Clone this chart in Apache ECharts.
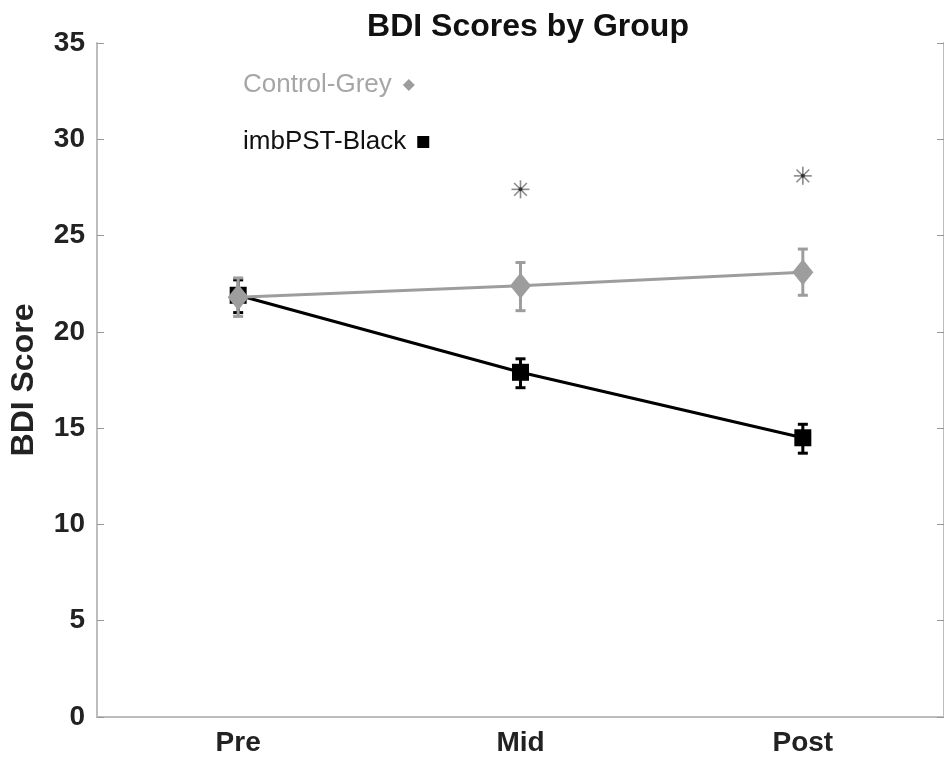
<!DOCTYPE html>
<html>
<head>
<meta charset="utf-8">
<script src="https://cdn.jsdelivr.net/npm/echarts@6/dist/echarts.min.js"></script>
<style>
  html, body { margin: 0; padding: 0; background: #fff; }
  #main { width: 944px; height: 762px; }
</style>
</head>
<body>
<div id="main"></div>
<script>
// data
const phases = ['Pre', 'Mid', 'Post']
const controlMean = [21.8, 22.4, 23.1]
const controlLow = [20.8, 21.1, 21.9]
const controlHigh = [22.8, 23.6, 24.3]
const imbpstMean = [21.9, 17.9, 14.5]
const imbpstLow = [21.0, 17.1, 13.7]
const imbpstHigh = [22.7, 18.6, 15.2]
// significance asterisks: [category index, y]
const starPoints = [[1, 27.4], [2, 28.1]]

const FONT = '"Liberation Sans", Arial, Helvetica, sans-serif'
const GREY = '#9d9d9d'
const BLACK = '#000000'
const AXIS = '#bdbdbd'

function barData(low, high) {
  return low.map((v, i) => [i, v, high[i]])
}

function errorBar(color, width, half) {
  return function (params, api) {
    const x = api.value(0)
    const lo = api.coord([x, api.value(1)])
    const hi = api.coord([x, api.value(2)])
    const style = { stroke: color, lineWidth: width }
    return {
      type: 'group',
      children: [
        { type: 'line', shape: { x1: hi[0], y1: hi[1], x2: lo[0], y2: lo[1] }, style },
        { type: 'line', shape: { x1: hi[0] - half, y1: hi[1], x2: hi[0] + half, y2: hi[1] }, style },
        { type: 'line', shape: { x1: lo[0] - half, y1: lo[1], x2: lo[0] + half, y2: lo[1] }, style }
      ]
    }
  }
}

function asterisk(params, api) {
  const p = api.coord([api.value(0), api.value(1)])
  const r = 9
  const children = []
  for (let k = 0; k < 4; k++) {
    const a = k * Math.PI / 4
    const dx = r * Math.cos(a)
    const dy = r * Math.sin(a)
    children.push({
      type: 'line',
      shape: { x1: p[0] - dx, y1: p[1] - dy, x2: p[0] + dx, y2: p[1] + dy },
      style: { stroke: '#8a8a8a', lineWidth: 1.6 }
    })
  }
  children.push({ type: 'circle', shape: { cx: p[0], cy: p[1], r: 2 }, style: { fill: '#333' } })
  return { type: 'group', children }
}

const tickLabel = { fontFamily: FONT, fontWeight: 'bold', fontSize: 28, color: '#222' }

function legendBox(top, item) {
  return {
    orient: 'vertical',
    left: 238,
    top: top,
    align: 'right',
    itemWidth: 12,
    itemHeight: 12,
    textStyle: { fontFamily: FONT, fontSize: 26, padding: [0, 6, 0, 0] },
    data: [item]
  }
}

const option = {
  backgroundColor: '#fff',
  animation: false,
  title: {
    text: 'BDI Scores by Group',
    left: 523,
    top: 6,
    textAlign: 'center',
    textStyle: { fontFamily: FONT, fontWeight: 'bold', fontSize: 32, color: '#111' }
  },
  legend: [
    legendBox(67, { name: 'Control-Grey', icon: 'diamond', textStyle: { color: '#a6a6a6' } }),
    legendBox(124, { name: 'imbPST-Black', icon: 'rect', textStyle: { color: '#111' } })
  ],
  grid: { left: 97, top: 43, width: 852, bottom: 45 },
  xAxis: [
    {
      type: 'category',
      data: phases,
      boundaryGap: true,
      axisLine: { lineStyle: { color: AXIS, width: 2 } },
      axisTick: { inside: true, alignWithLabel: true, length: 8, lineStyle: { color: '#999' } },
      axisLabel: Object.assign({ margin: 12 }, tickLabel)
    },
    {
      type: 'category',
      position: 'top',
      data: phases,
      boundaryGap: true,
      axisLine: { lineStyle: { color: AXIS, width: 2 } },
      axisTick: { inside: true, alignWithLabel: true, length: 8, lineStyle: { color: '#999' } },
      axisLabel: { show: false }
    }
  ],
  yAxis: [
    {
      type: 'value',
      min: 0,
      max: 35,
      interval: 5,
      name: 'BDI Score',
      nameLocation: 'middle',
      nameRotate: 90,
      nameGap: 57,
      nameTextStyle: { fontFamily: FONT, fontWeight: 'bold', fontSize: 32, color: '#222' },
      axisLine: { show: true, lineStyle: { color: AXIS, width: 2 } },
      axisTick: { show: true, inside: true, length: 7, lineStyle: { color: '#999' } },
      splitLine: { show: false },
      axisLabel: Object.assign({ margin: 12 }, tickLabel)
    },
    {
      type: 'value',
      position: 'right',
      min: 0,
      max: 35,
      interval: 5,
      axisLine: { show: true, lineStyle: { color: AXIS, width: 2 } },
      axisTick: { show: true, inside: true, length: 7, lineStyle: { color: '#999' } },
      splitLine: { show: false },
      axisLabel: { show: false }
    }
  ],
  series: [
    {
      name: 'imbPST-Black',
      type: 'line',
      data: imbpstMean,
      symbol: 'rect',
      symbolSize: 17,
      itemStyle: { color: BLACK },
      lineStyle: { color: BLACK, width: 3 },
      z: 3
    },
    {
      name: 'imbPST-Black-err',
      type: 'custom',
      data: barData(imbpstLow, imbpstHigh),
      encode: { x: 0, y: [1, 2] },
      renderItem: errorBar(BLACK, 3, 5),
      z: 2
    },
    {
      name: 'Control-Grey',
      type: 'line',
      data: controlMean,
      symbol: 'diamond',
      symbolSize: [21, 26],
      itemStyle: { color: GREY },
      lineStyle: { color: GREY, width: 3 },
      z: 5
    },
    {
      name: 'Control-Grey-err',
      type: 'custom',
      data: barData(controlLow, controlHigh),
      encode: { x: 0, y: [1, 2] },
      renderItem: errorBar(GREY, 3, 5),
      z: 4
    },
    {
      name: 'asterisk',
      type: 'custom',
      data: starPoints,
      encode: { x: 0, y: 1 },
      renderItem: asterisk,
      z: 6
    }
  ]
}

const chart = echarts.init(document.getElementById('main'))
chart.setOption(option)
</script>
</body>
</html>
